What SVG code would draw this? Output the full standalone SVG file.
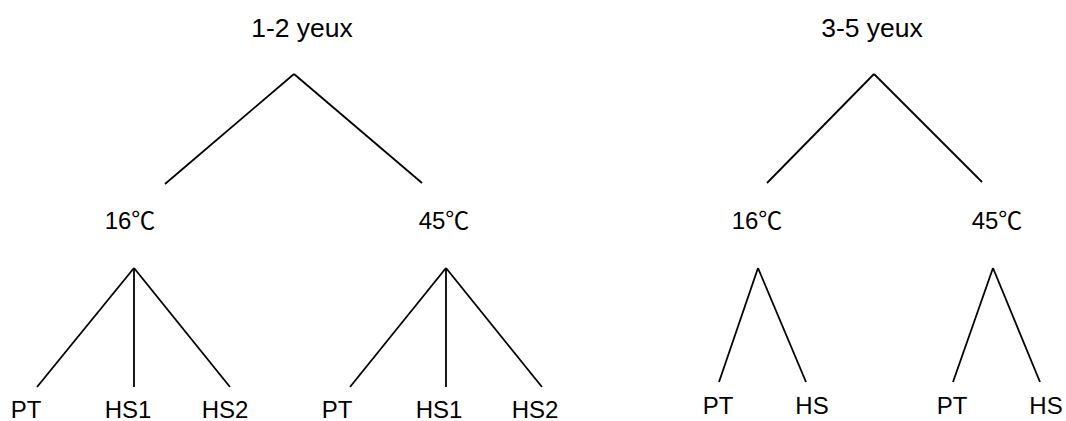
<svg xmlns="http://www.w3.org/2000/svg" width="1066" height="421" viewBox="0 0 1066 421">
<style>
text{font-family:"Liberation Sans","Noto Sans CJK SC",sans-serif;font-size:24px;fill:#000;text-anchor:middle}
.top{font-size:26.5px}
.deg{font-family:"Noto Sans CJK SC","Noto Sans CJK JP",sans-serif}
.conn line{stroke:#000;stroke-width:1.8;stroke-linecap:butt}
</style>
<rect width="1066" height="421" fill="#fff"/>
<g class="conn" id="connectors">
<line x1="294" y1="74" x2="165" y2="184"/>
<line x1="294" y1="74" x2="422" y2="183"/>
<line x1="134" y1="268" x2="37" y2="387"/>
<line x1="134" y1="268" x2="134" y2="387"/>
<line x1="134" y1="268" x2="230" y2="387"/>
<line x1="446" y1="268" x2="350" y2="387"/>
<line x1="446" y1="268" x2="446" y2="387"/>
<line x1="446" y1="268" x2="542" y2="387"/>
<line x1="874" y1="74" x2="767" y2="183"/>
<line x1="874" y1="74" x2="982" y2="182"/>
<line x1="758" y1="268" x2="719" y2="382"/>
<line x1="758" y1="268" x2="806" y2="382"/>
<line x1="993" y1="268" x2="953" y2="382"/>
<line x1="993" y1="268" x2="1040" y2="382"/>
</g>
<g id="n-12yeux"><text class="top" x="302" y="37">1-2 yeux</text></g>
<g id="n-35yeux"><text class="top" x="872" y="37">3-5 yeux</text></g>
<g id="n-a16"><text x="130" y="229">16<tspan class="deg">℃</tspan></text></g>
<g id="n-a45"><text x="444" y="229">45<tspan class="deg">℃</tspan></text></g>
<g id="n-b16"><text x="757" y="229">16<tspan class="deg">℃</tspan></text></g>
<g id="n-b45"><text x="997" y="229">45<tspan class="deg">℃</tspan></text></g>
<g id="n-a16pt"><text x="26" y="418">PT</text></g>
<g id="n-a16hs1"><text x="128" y="418">HS1</text></g>
<g id="n-a16hs2"><text x="225" y="418">HS2</text></g>
<g id="n-a45pt"><text x="337" y="418">PT</text></g>
<g id="n-a45hs1"><text x="439" y="418">HS1</text></g>
<g id="n-a45hs2"><text x="535" y="418">HS2</text></g>
<g id="n-b16pt"><text x="718" y="414">PT</text></g>
<g id="n-b16hs"><text x="812" y="414">HS</text></g>
<g id="n-b45pt"><text x="952" y="414">PT</text></g>
<g id="n-b45hs"><text x="1046" y="414">HS</text></g>
</svg>
